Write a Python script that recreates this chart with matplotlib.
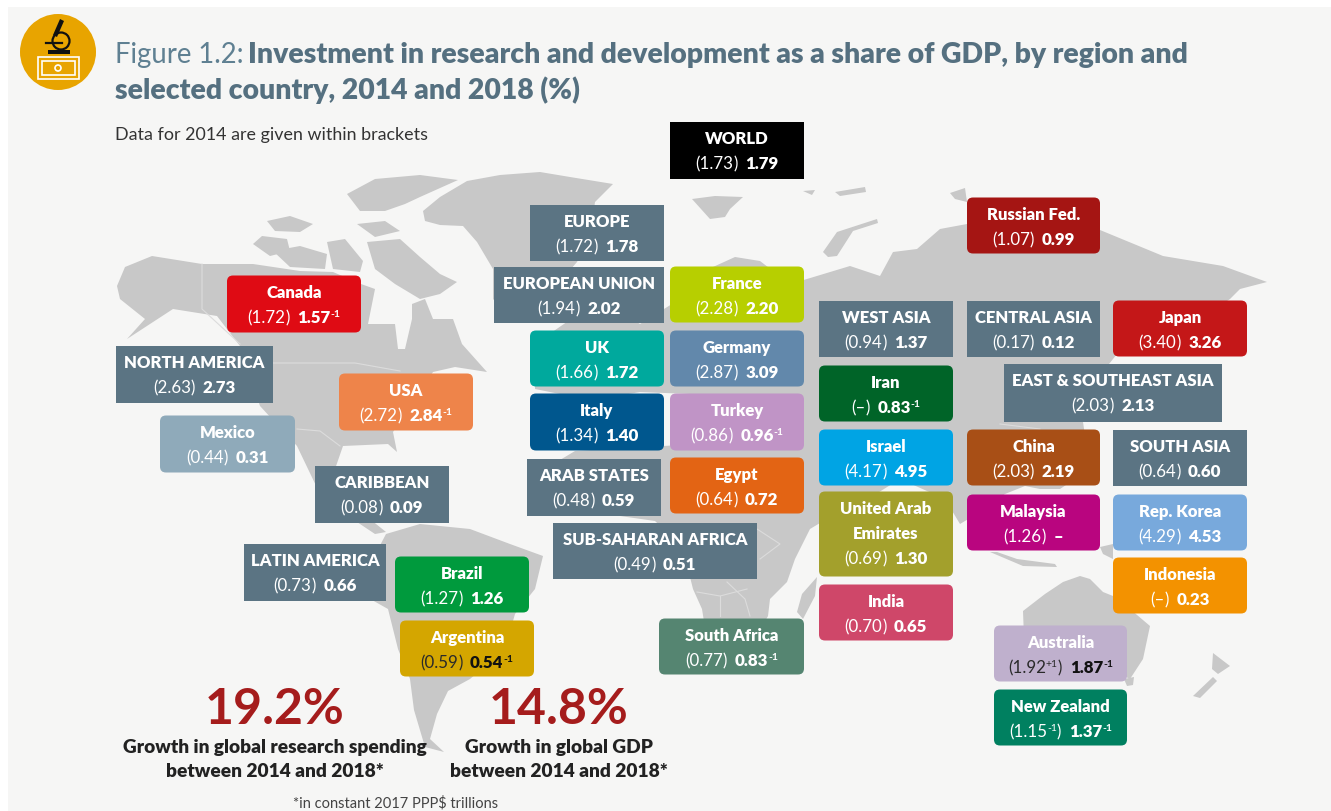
#!/usr/bin/env python
# coding=utf-8
import matplotlib
matplotlib.use("Agg")
import matplotlib.pyplot as plt
from matplotlib.patches import Circle, FancyBboxPatch, Polygon, Rectangle

# data: None means no figure given
names = ["WORLD", "EUROPE", "EUROPEAN UNION", "France", "Canada", "NORTH AMERICA", "USA", "Mexico",
         "CARIBBEAN", "UK", "Germany", "Italy", "Turkey", "ARAB STATES", "Egypt", "SUB-SAHARAN AFRICA",
         "LATIN AMERICA", "Brazil", "Argentina", "South Africa", "WEST ASIA", "Iran", "Israel",
         "United Arab\nEmirates", "India", "Russian Fed.", "CENTRAL ASIA", "Japan",
         "EAST & SOUTHEAST ASIA", "China", "SOUTH ASIA", "Malaysia", "Rep. Korea", "Indonesia",
         "Australia", "New Zealand"]
y2014 = [1.73, 1.72, 1.94, 2.28, 1.72, 2.63, 2.72, 0.44, 0.08, 1.66, 2.87, 1.34, 0.86, 0.48, 0.64, 0.49,
         0.73, 1.27, 0.59, 0.77, 0.94, None, 4.17, 0.69, 0.70, 1.07, 0.17, 3.40, 2.03, 2.03, 0.64, 1.26,
         4.29, None, 1.92, 1.15]
y2018 = [1.79, 1.78, 2.02, 2.20, 1.57, 2.73, 2.84, 0.31, 0.09, 1.72, 3.09, 1.40, 0.96, 0.59, 0.72, 0.51,
         0.66, 1.26, 0.54, 0.83, 1.37, 0.83, 4.95, 1.30, 0.65, 0.99, 0.12, 3.26, 2.13, 2.19, 0.60, None,
         4.53, 0.23, 1.87, 1.37]
# year offsets shown as superscripts
note2014 = {"Australia": "+1", "New Zealand": "-1"}
note2018 = {"Canada": "-1", "USA": "-1", "Turkey": "-1", "Argentina": "-1", "South Africa": "-1",
            "Iran": "-1", "Australia": "-1", "New Zealand": "-1"}
growth_values = [19.2, 14.8]
growth_labels = ["Growth in global research spending\nbetween 2014 and 2018*",
                 "Growth in global GDP\nbetween 2014 and 2018*"]

SLATE = "#5b7483"
# layout per label: x0, y0, x1, y1, colour, rounded
boxes = {
    "WORLD": (670, 122, 804, 179, "#000000", False),
    "EUROPE": (530, 205, 664, 261, SLATE, False),
    "EUROPEAN UNION": (494, 267, 664, 323, SLATE, False),
    "France": (670, 267, 804, 323, "#b7cf00", True),
    "Canada": (227, 276, 361, 333, "#df0b14", True),
    "NORTH AMERICA": (116, 346, 273, 403, SLATE, False),
    "USA": (339, 374, 473, 431, "#ee844a", True),
    "Mexico": (160, 416, 295, 473, "#8faaba", True),
    "CARIBBEAN": (315, 466, 449, 523, SLATE, False),
    "UK": (530, 331, 664, 387, "#00a99d", True),
    "Germany": (670, 331, 804, 387, "#6288ab", True),
    "Italy": (530, 394, 664, 451, "#00578e", True),
    "Turkey": (670, 394, 804, 451, "#c094c6", True),
    "ARAB STATES": (527, 459, 661, 516, SLATE, False),
    "Egypt": (670, 458, 804, 514, "#e36414", True),
    "SUB-SAHARAN AFRICA": (553, 523, 757, 579, SLATE, False),
    "LATIN AMERICA": (244, 544, 386, 601, SLATE, False),
    "Brazil": (395, 557, 529, 613, "#009a3d", True),
    "Argentina": (400, 621, 534, 677, "#d4a600", True),
    "South Africa": (659, 619, 804, 675, "#558571", True),
    "WEST ASIA": (819, 301, 953, 357, SLATE, False),
    "Iran": (819, 366, 953, 422, "#006428", True),
    "Israel": (819, 430, 953, 486, "#00a4e4", True),
    "United Arab\nEmirates": (819, 492, 953, 577, "#a3a02c", True),
    "India": (819, 585, 953, 641, "#cf4769", True),
    "Russian Fed.": (967, 198, 1100, 254, "#a51513", True),
    "CENTRAL ASIA": (967, 301, 1100, 357, SLATE, False),
    "Japan": (1113, 301, 1247, 357, "#c41718", True),
    "EAST & SOUTHEAST ASIA": (1004, 364, 1222, 422, SLATE, False),
    "China": (967, 430, 1100, 486, "#a84f16", True),
    "SOUTH ASIA": (1113, 430, 1247, 486, SLATE, False),
    "Malaysia": (967, 495, 1100, 551, "#b9057f", True),
    "Rep. Korea": (1113, 495, 1247, 551, "#78a9dc", True),
    "Indonesia": (1113, 558, 1247, 614, "#f39200", True),
    "Australia": (994, 626, 1127, 682, "#bfb0cd", True),
    "New Zealand": (994, 690, 1127, 746, "#008060", True),
}
dark_values = ["Argentina", "Australia"]

# rough land shapes, in pixels
land = [
    # north america
    [(117, 287), (125, 268), (152, 257), (202, 265), (253, 265), (300, 272), (333, 273), (361, 285), (375, 290),
     (368, 325), (395, 325), (398, 350), (405, 350), (412, 320), (412, 305), (425, 300), (433, 320), (453, 320),
     (462, 345), (487, 373), (455, 368), (433, 373), (415, 400), (393, 433), (397, 453), (388, 445), (343, 447),
     (335, 470), (345, 500), (386, 533), (375, 535), (345, 515), (320, 495), (297, 447), (272, 420), (260, 407),
     (240, 347), (217, 317), (173, 310), (127, 340), (145, 320), (120, 300)],
    # arctic islands
    [(253, 245), (262, 237), (287, 240), (290, 252), (270, 257)],
    [(267, 222), (290, 217), (313, 225), (300, 233), (275, 232)],
    [(273, 252), (300, 247), (327, 255), (325, 270), (290, 268)],
    [(327, 243), (345, 240), (363, 262), (360, 273), (333, 270)],
    [(357, 225), (385, 222), (400, 232), (375, 238)],
    [(347, 195), (375, 180), (420, 176), (458, 181), (420, 198), (405, 205), (385, 212), (360, 212)],
    [(367, 243), (400, 240), (420, 258), (440, 275), (457, 283), (440, 295), (420, 300), (395, 285), (375, 270)],
    # greenland
    [(423, 212), (440, 198), (467, 182), (500, 176), (540, 173), (570, 178), (613, 185), (595, 203), (590, 240),
     (577, 263), (545, 300), (510, 320), (493, 300), (493, 270), (477, 243), (463, 227), (440, 226), (425, 222)],
    # svalbard, novaya zemlya, severnaya
    [(692, 200), (715, 197), (743, 198), (730, 210), (725, 218), (710, 220)],
    [(823, 253), (837, 233), (877, 220), (878, 224), (853, 232), (837, 257), (828, 258)],
    [(950, 194), (965, 189), (967, 203), (955, 200)],
    [(803, 192), (815, 191), (812, 196)], [(835, 193), (865, 188), (866, 193), (840, 197)],
    # south america
    [(386, 535), (420, 525), (470, 530), (510, 545), (543, 557), (535, 590), (515, 615), (505, 650), (470, 680),
     (448, 692), (437, 715), (430, 740), (444, 753), (425, 748), (414, 711), (410, 680), (398, 650), (388, 610),
     (372, 601), (365, 575)],
    # eurasia
    [(535, 345), (600, 300), (640, 325), (680, 300), (713, 268), (735, 258), (760, 262), (790, 285), (807, 280),
     (850, 267), (865, 272), (880, 277), (893, 253), (917, 250), (940, 230), (967, 225), (1045, 215), (1100, 231),
     (1163, 257), (1223, 267), (1267, 283), (1240, 290), (1230, 300), (1200, 320), (1117, 355), (1105, 370),
     (1090, 400), (1083, 423), (1090, 470), (1060, 490), (1040, 490), (1025, 487), (1005, 495), (985, 510),
     (960, 525), (945, 500), (900, 480), (860, 505), (830, 510), (810, 470), (790, 440), (740, 410), (690, 395),
     (640, 393), (600, 400), (560, 395), (535, 390)],
    # africa
    [(545, 470), (575, 452), (607, 450), (700, 445), (770, 448), (800, 442), (813, 445), (830, 510), (835, 515),
     (810, 530), (795, 560), (787, 583), (770, 600), (768, 617), (755, 640), (735, 672), (712, 672), (702, 610),
     (693, 590), (688, 570), (680, 545), (655, 522), (620, 517), (570, 510), (540, 490)],
    [(817, 578), (815, 597), (803, 620), (797, 613), (802, 595)],
    # islands of south east asia
    [(990, 553), (997, 553), (1017, 560), (1055, 565), (1057, 568), (1023, 567)],
    [(1100, 548), (1113, 545), (1113, 560), (1103, 555)],
    # australia
    [(1023, 612), (1045, 595), (1063, 583), (1080, 577), (1090, 580), (1103, 593), (1113, 597), (1130, 610), (1150, 627),
     (1143, 660), (1130, 680), (1100, 665), (1060, 655), (1025, 665)],
    [(1124, 680), (1134, 678), (1133, 686), (1127, 687)],
    # new zealand
    [(1213, 654), (1230, 667), (1218, 675), (1212, 670)], [(1213, 678), (1217, 682), (1200, 699), (1193, 697)],
]
# thin light border lines, in pixels
borders = [
    [(202, 265), (202, 310), (240, 345)],
    [(273, 364), (355, 364), (400, 372)],
    [(297, 430), (320, 432), (340, 447)],
    [(697, 593), (720, 597), (747, 590)],
    [(720, 597), (720, 617)],
    [(727, 583), (745, 600), (750, 617)],
    [(757, 530), (780, 545), (760, 560)],
    [(1000, 425), (1040, 430)],
]


def draw_runs(ax, cx, cy, runs):
    """runs: list of (text, weight, size, colour, rise); centred on cx"""
    rend = ax.figure.canvas.get_renderer()
    items = []
    total = 0
    for s, weight, size, col, rise in runs:
        t = ax.text(0, cy - rise, s, fontweight=weight, fontsize=size, color=col, ha="left", va="baseline", zorder=5)
        w = t.get_window_extent(rend).width if s.strip() else 7.5
        items.append((t, w))
        total += w
    x = cx - total / 2
    for t, w in items:
        t.set_x(x)
        x += w


def value_runs(name, v14, v18):
    col = "#2a2a2a" if name in dark_values else "white"
    col18 = "#111111" if name in dark_values else "white"
    size = 12.2
    runs = []
    left = "–" if v14 is None else "%.2f" % v14
    runs.append(("(" + left, "normal", size, col, 0))
    if name in note2014:
        runs.append((note2014[name], "normal", 7.5, col, 6))
    runs.append((")", "normal", size, col, 0))
    runs.append((" ", "normal", size, col, 0))
    runs.append(("–" if v18 is None else "%.2f" % v18, "heavy", size, col18, 0))
    if name in note2018:
        runs.append((note2018[name], "bold", 7.5, col18, 6))
    return runs


plt.rcParams["font.family"] = ["Lato", "DejaVu Sans"]
fig = plt.figure(figsize=(13.31, 8.12), dpi=100, facecolor="white")
ax = fig.add_axes([0, 0, 1, 1])
ax.set_xlim(0, 1331)
ax.set_ylim(812, 0)
ax.axis("off")
fig.canvas.draw()

ax.add_patch(Rectangle((8, 8), 1323, 804, fc="#f6f6f5", ec="none", zorder=0))

for shape in land:
    ax.add_patch(Polygon(shape, closed=True, fc="#c8c8c8", ec="none", zorder=1))
for line in borders:
    ax.plot([p[0] for p in line], [p[1] for p in line], color="#dcdcdc", lw=0.8, zorder=1.5)

# icon
ax.add_patch(Circle((58, 53), 38, fc="#e8a400", ec="none", zorder=2))
ax.add_patch(Rectangle((48, 51), 22, 4, fc="#111111", zorder=3))
ax.add_patch(Polygon([(60, 20), (64, 22), (57, 38), (53, 36)], fc="#111111", zorder=3))
ax.add_patch(Circle((61, 42), 8.5, fc="none", ec="#111111", lw=1.6, zorder=3))
ax.plot([46, 62], [44, 44], color="#111111", lw=1.6, zorder=3)
ax.add_patch(Rectangle((38, 58), 41, 22, fc="none", ec="white", lw=1.2, zorder=3))
ax.add_patch(Rectangle((42, 62), 33, 14, fc="none", ec="white", lw=1.2, zorder=3))
ax.add_patch(Circle((58, 69), 3, fc="none", ec="white", lw=1.2, zorder=3))

# title
ax.text(115, 63, "Figure 1.2:", fontsize=19.8, color="#5f8092", ha="left", va="baseline")
ax.text(248, 63, "Investment in research and development as a share of GDP, by region and",
        fontsize=20.4, fontweight="heavy", color="#557080", ha="left", va="baseline")
ax.text(115, 99, "selected country, 2014 and 2018 (%)", fontsize=20.4, fontweight="heavy", color="#557080",
        ha="left", va="baseline")
ax.text(115, 140, "Data for 2014 are given within brackets", fontsize=12.9, color="#333333", ha="left", va="baseline")

# boxes
for name, v14, v18 in zip(names, y2014, y2018):
    x0, y0, x1, y1, col, rounded = boxes[name]
    y0 += 0.5
    y1 += 0.5
    if rounded:
        patch = FancyBboxPatch((x0 + 6, y0 + 6), x1 - x0 - 12, y1 - y0 - 12, boxstyle="round,pad=6,rounding_size=6",
                               fc=col, ec="none", zorder=4)
    else:
        patch = Rectangle((x0, y0), x1 - x0, y1 - y0, fc=col, ec="none", zorder=4)
    ax.add_patch(patch)
    cx = (x0 + x1) / 2
    base = y0 + 21.5
    for line in name.split("\n"):
        ax.text(cx, base, line, fontsize=12, fontweight="heavy", color="white", ha="center", va="baseline", zorder=5)
        base += 25
    draw_runs(ax, cx, base, value_runs(name, v14, v18))

# growth figures
centres = [275, 559]
for cx, v, lab in zip(centres, growth_values, growth_labels):
    ax.text(cx, 724, "%.1f%%" % v, fontsize=36, fontweight="bold", color="#a51c1c", ha="center", va="baseline", zorder=5)
    l1, l2 = lab.split("\n")
    ax.text(cx, 753, l1, fontsize=13.75, fontweight="heavy", color="#222222", ha="center", va="baseline", zorder=5)
    ax.text(cx, 777, l2, fontsize=13.75, fontweight="heavy", color="#222222", ha="center", va="baseline", zorder=5)
ax.text(396, 808, "*in constant 2017 PPP$ trillions", fontsize=10.5, color="#444444", ha="center", va="baseline", zorder=5)

fig.savefig("out.png", dpi=100)
